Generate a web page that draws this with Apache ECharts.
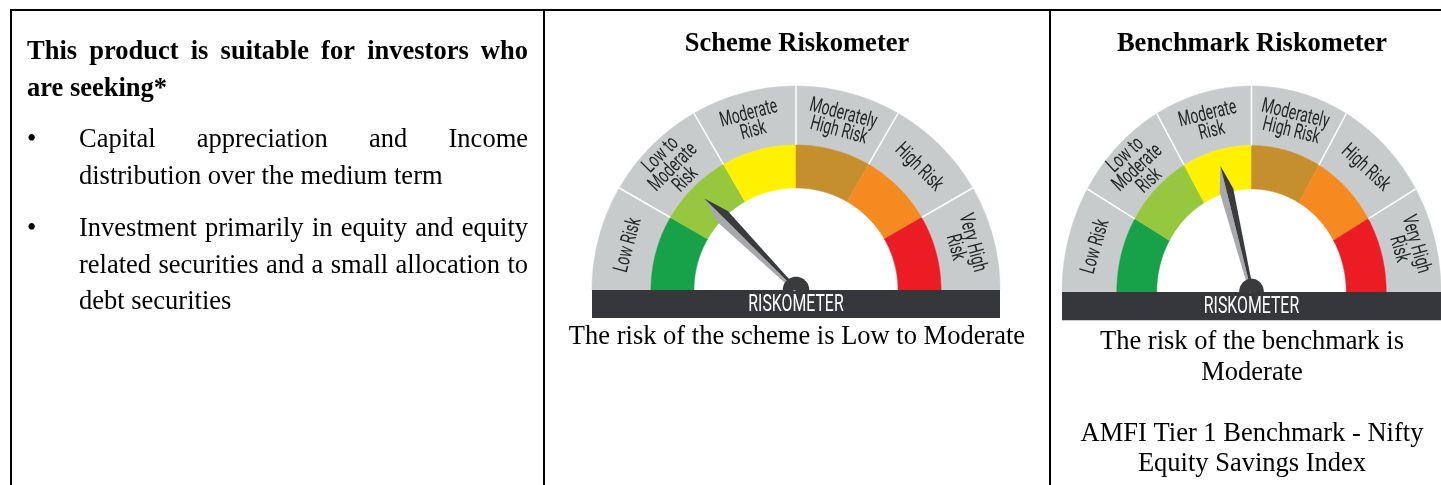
<!DOCTYPE html>
<html>
<head>
<meta charset="utf-8">
<script src="https://cdn.jsdelivr.net/npm/echarts@6/dist/echarts.min.js"></script>
<style>
  html, body { margin: 0; padding: 0; background: #fff; }
  #chart { width: 1441px; height: 485px; }
</style>
</head>
<body>
<div id="chart"></div>
<script>
// risk bands, 0..6 on the dial
const riskLevels = ['Low Risk', 'Low to Moderate Risk', 'Moderate Risk', 'Moderately High Risk', 'High Risk', 'Very High Risk']
const riskLabels = ['Low Risk', 'Low to\nModerate\nRisk', 'Moderate\nRisk', 'Moderately\nHigh Risk', 'High Risk', 'Very High\nRisk']
const bandStart = [0, 1, 2, 3, 4, 5]
const bandEnd = [1, 2, 3, 4, 5, 6]
const schemeRisk = [1.5]
const benchmarkRisk = [2.5]

const headingWords = ['This product is suitable for investors who', 'are seeking*']
const bulletOne = ['Capital appreciation and Income', 'distribution over the medium term']
const bulletTwo = ['Investment primarily in equity and equity', 'related securities and a small allocation to', 'debt securities']
const schemeCaption = ['The risk of the scheme is Low to Moderate']
const benchmarkCaption = ['The risk of the benchmark is', 'Moderate', '', 'AMFI Tier 1 Benchmark - Nifty', 'Equity Savings Index']

const BAND_COLORS = ['#17a148', '#95c83e', '#fff100', '#c68f2e', '#f58a20', '#ec1c24']
const GRAY = '#c8cbcb'
const DARK = '#35373a'
const SERIF = "'Liberation Serif', 'Times New Roman', serif"
const COND = 'Roboto, sans-serif'

const RMAX = 6
const R_IN = 0.5
const R_MID = 0.711
const R_OUT = 1

const ang = v => Math.PI * (1 - v / RMAX)
const pt = (api, r, a) => api.coord([r * Math.cos(a), r * Math.sin(a)])

function arcPts(api, r, a0, a1, n) {
  const out = []
  for (let k = 0; k <= n; k++) {
    const a = a0 + (a1 - a0) * k / n
    out.push(pt(api, r, a))
  }
  return out
}

function ringPoly(api, r0, r1, a0, a1) {
  return arcPts(api, r1, a0, a1, 40).concat(arcPts(api, r0, a1, a0, 40))
}

function renderBand(params, api) {
  const i = api.value(2)
  const a0 = ang(api.value(0))
  const a1 = ang(api.value(1))
  const am = (a0 + a1) / 2
  const children = [
    { type: 'polygon', shape: { points: ringPoly(api, R_MID, R_OUT, a0, a1) }, style: { fill: GRAY, stroke: GRAY, lineWidth: 0.5 } },
    { type: 'polygon', shape: { points: ringPoly(api, R_IN, R_MID, a0, a1) }, style: { fill: BAND_COLORS[i], stroke: BAND_COLORS[i], lineWidth: 0.5 } },
  ]
  if (api.value(0) > 0) {
    const p = pt(api, R_MID, a0)
    const q = pt(api, R_OUT, a0)
    children.push({ type: 'line', z2: 5, shape: { x1: p[0], y1: p[1], x2: q[0], y2: q[1] }, style: { stroke: '#fff', lineWidth: 1.5 } })
  }
  const o = api.coord([0, 0])
  const c = pt(api, 0.85, am)
  const screenAng = Math.atan2(o[1] - c[1], c[0] - o[0])
  children.push({
    type: 'text',
    z2: 6,
    x: c[0],
    y: c[1],
    rotation: screenAng - Math.PI / 2,
    scaleX: 0.66,
    style: {
      text: riskLabels[i],
      font: '21px ' + COND,
      fill: '#262626',
      align: 'center',
      verticalAlign: 'middle',
      lineHeight: 17.5,
    },
  })
  return { type: 'group', children }
}

function renderBase(params, api) {
  const p0 = api.coord([api.value(0), 0])
  const p1 = api.coord([api.value(1), -0.137])
  const c = api.coord([0, -0.068])
  return {
    type: 'group',
    children: [
      { type: 'rect', shape: { x: p0[0], y: p0[1], width: p1[0] - p0[0], height: p1[1] - p0[1] }, style: { fill: DARK } },
      { type: 'text', x: c[0], y: c[1] + 1, scaleX: 0.66, style: { text: 'RISKOMETER', font: '24px ' + COND, fill: '#fff', align: 'center', verticalAlign: 'middle' } },
    ],
  }
}

function renderNeedle(params, api) {
  const a = ang(api.value(0))
  const L = 0.635, S = 0.51, W = 0.037, B = 0.011
  const ux = Math.cos(a), uy = Math.sin(a)
  const nx = -uy, ny = ux
  const P = (u, w) => api.coord([u * ux + w * nx, u * uy + w * ny])
  const tip = P(L, 0)
  const base = P(0, 0)
  return {
    type: 'group',
    children: [
      { type: 'polygon', shape: { points: [tip, P(S, W), P(0, B), base] }, style: { fill: '#a7a9ac' } },
      { type: 'polygon', shape: { points: [tip, P(S, -W), P(0, -B), base] }, style: { fill: '#3a3b3d' } },
      { type: 'polygon', shape: { points: arcPts(api, 0.065, 0, Math.PI, 30) }, style: { fill: '#3a3b3d' } },
    ],
  }
}

function gaugeSeries(idx, risk) {
  return [
    {
      type: 'custom',
      xAxisIndex: idx,
      yAxisIndex: idx,
      renderItem: renderBand,
      data: bandStart.map((s, i) => ({ name: riskLevels[i], value: [s, bandEnd[i], i] })),
      silent: true,
    },
    {
      type: 'custom',
      xAxisIndex: idx,
      yAxisIndex: idx,
      renderItem: renderBase,
      data: [[-1, 1]],
      silent: true,
    },
    {
      type: 'custom',
      xAxisIndex: idx,
      yAxisIndex: idx,
      renderItem: renderNeedle,
      data: risk.map(v => [v]),
      silent: true,
      z: 5,
    },
  ]
}

// text helpers
const measureCtx = document.createElement('canvas').getContext('2d')
const DY = 2.5

function textEl(text, x, y, font, align) {
  return { type: 'text', x, y: y + DY, style: { text, font, fill: '#000', align: align || 'left', verticalAlign: 'middle' } }
}

function justified(line, x0, x1, y, font) {
  const words = line.split(' ')
  measureCtx.font = font
  const widths = words.map(w => measureCtx.measureText(w).width)
  const total = widths.reduce((s, w) => s + w, 0)
  const gap = (x1 - x0 - total) / (words.length - 1)
  const out = []
  let x = x0
  words.forEach((w, i) => {
    out.push(textEl(w, x, y, font))
    x += widths[i] + gap
  })
  return out
}

const bodyFont = '26.5px ' + SERIF
const boldFont = 'bold 26.5px ' + SERIF

const graphics = []
// table lines
const lineStyle = { stroke: '#000', lineWidth: 2 }
graphics.push({ type: 'line', shape: { x1: 10, y1: 10, x2: 1441, y2: 10 }, style: lineStyle })
graphics.push({ type: 'line', shape: { x1: 11, y1: 10, x2: 11, y2: 485 }, style: lineStyle })
graphics.push({ type: 'line', shape: { x1: 544, y1: 10, x2: 544, y2: 485 }, style: lineStyle })
graphics.push({ type: 'line', shape: { x1: 1050, y1: 10, x2: 1050, y2: 485 }, style: lineStyle })

// left column
graphics.push(...justified(headingWords[0], 27, 528, 50, boldFont))
graphics.push(textEl(headingWords[1], 27, 87, boldFont))
graphics.push(textEl('•', 27, 138, bodyFont))
graphics.push(...justified(bulletOne[0], 79, 528, 138, bodyFont))
graphics.push(textEl(bulletOne[1], 79, 175, bodyFont))
graphics.push(textEl('•', 27, 227, bodyFont))
graphics.push(...justified(bulletTwo[0], 79, 528, 227, bodyFont))
graphics.push(...justified(bulletTwo[1], 79, 528, 264, bodyFont))
graphics.push(textEl(bulletTwo[2], 79, 300, bodyFont))

// column headings and captions
graphics.push(textEl('Scheme Riskometer', 797, 42, boldFont, 'center'))
graphics.push(textEl('Benchmark Riskometer', 1252, 42, boldFont, 'center'))
graphics.push(textEl(schemeCaption[0], 797, 335, bodyFont, 'center'))
const benchY = [340, 371, 0, 432, 462]
benchmarkCaption.forEach((t, i) => {
  if (t) graphics.push(textEl(t, 1252, benchY[i], bodyFont, 'center'))
})

const chart = echarts.init(document.getElementById('chart'), null, { renderer: 'canvas' })

const option = {
  animation: false,
  backgroundColor: '#fff',
  grid: [
    { left: 592, top: 86, width: 408, height: 232.56 },
    { left: 1062, top: 86, width: 380, height: 234.84 },
  ],
  xAxis: [
    { type: 'value', gridIndex: 0, min: -1, max: 1, show: false },
    { type: 'value', gridIndex: 1, min: -1, max: 1, show: false },
  ],
  yAxis: [
    { type: 'value', gridIndex: 0, min: -0.14, max: 1, show: false },
    { type: 'value', gridIndex: 1, min: -0.14, max: 1, show: false },
  ],
  series: [...gaugeSeries(0, schemeRisk), ...gaugeSeries(1, benchmarkRisk)],
  graphic: graphics,
}

chart.setOption(option)
window.addEventListener('resize', () => chart.resize())
</script>
</body>
</html>
